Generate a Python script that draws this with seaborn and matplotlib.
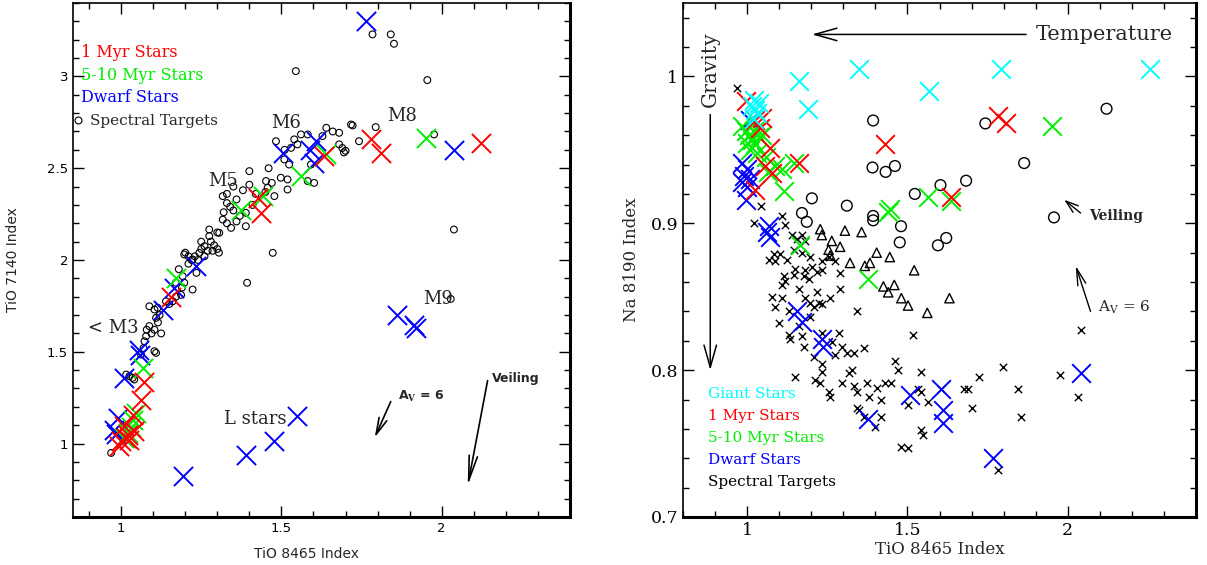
import numpy as np
import pandas as pd
import matplotlib
matplotlib.use('Agg')
import matplotlib.pyplot as plt
import seaborn as sns
from matplotlib.markers import MarkerStyle
from matplotlib.lines import Line2D
from matplotlib.ticker import MultipleLocator, FuncFormatter

# ---- left panel: TiO 8465 vs TiO 7140 ----
left_red = [(1.062, 1.24), (1.072, 1.338), (1.036, 1.158), (1.010, 1.094), (1.021, 1.049),
            (1.000, 1.013), (1.026, 1.022), (0.995, 0.985), (1.015, 1.030), (1.040, 1.070),
            (1.156, 1.80), (1.426, 2.34), (1.436, 2.257), (1.633, 2.566), (1.779, 2.657),
            (1.810, 2.584), (2.121, 2.639)]
left_green = [(1.171, 1.903), (1.068, 1.41), (1.047, 1.167), (1.036, 1.13), (1.020, 1.06),
              (1.030, 1.09), (1.010, 1.03), (1.374, 2.275), (1.441, 2.348), (1.561, 2.457),
              (1.639, 2.575), (1.950, 2.666)]
left_blue = [(1.234, 1.966), (1.166, 1.848), (1.130, 1.73), (1.057, 1.512), (1.060, 1.48),
             (1.010, 1.358), (0.990, 1.14), (0.979, 1.076), (0.985, 1.05), (1.504, 2.584),
             (1.607, 2.647), (1.602, 2.53), (1.590, 2.60), (1.763, 3.30), (2.038, 2.60),
             (1.862, 1.703), (1.919, 1.63), (1.915, 1.645), (1.550, 1.149), (1.478, 1.013),
             (1.389, 0.94), (1.192, 0.822)]
left_targets = [(1.400, 2.484), (1.452, 2.43), (1.400, 2.41), (1.457, 2.393), (1.478, 2.348),
                (1.317, 2.348), (1.340, 2.29), (1.330, 2.31), (1.350, 2.27), (1.389, 2.257),
                (1.389, 2.184), (1.360, 2.21), (1.343, 2.175), (1.317, 2.22), (1.330, 2.20),
                (1.275, 2.166), (1.306, 2.148), (1.280, 2.10), (1.290, 2.08), (1.300, 2.06),
                (1.285, 2.05), (1.305, 2.04), (1.260, 2.075), (1.250, 2.06), (1.230, 2.02),
                (1.210, 2.02), (1.200, 2.04), (1.220, 2.00), (1.473, 2.039), (1.498, 2.448),
                (1.519, 2.439), (1.519, 2.384), (1.483, 2.647), (1.530, 2.611), (1.509, 2.548),
                (1.524, 2.52), (1.540, 2.657), (1.561, 2.684), (1.582, 2.684), (1.628, 2.675),
                (1.680, 2.693), (1.717, 2.738), (1.680, 2.63), (1.695, 2.586), (1.690, 2.61),
                (1.602, 2.42), (1.582, 2.43), (1.592, 2.52), (1.784, 3.229), (1.841, 3.229),
                (1.851, 3.178), (1.545, 3.029), (1.955, 2.98), (1.722, 2.733), (1.794, 2.724),
                (1.742, 2.647), (1.700, 2.595), (1.976, 2.684), (2.038, 2.166), (2.028, 1.788),
                (1.275, 2.13), (1.244, 2.039), (1.197, 2.03), (1.223, 2.003), (1.210, 1.98),
                (1.192, 1.912), (1.171, 1.876), (1.197, 1.876), (1.223, 1.839), (1.187, 1.81),
                (1.171, 1.80), (1.161, 1.775), (1.140, 1.775), (1.114, 1.74), (1.104, 1.73),
                (1.088, 1.748), (1.109, 1.685), (1.088, 1.64), (1.104, 1.62), (1.125, 1.60),
                (1.115, 1.66), (1.078, 1.585), (1.073, 1.557), (1.109, 1.494), (1.062, 1.485),
                (1.026, 1.367), (1.041, 1.349), (1.016, 1.376), (1.036, 1.358), (0.969, 0.949),
                (1.393, 1.876), (1.104, 1.503), (1.095, 1.60), (1.080, 1.62), (1.120, 1.70),
                (1.150, 1.76), (1.240, 2.00), (1.260, 2.02), (1.270, 2.05), (1.320, 2.26),
                (1.360, 2.33), (1.380, 2.38), (1.420, 2.36), (1.450, 2.37), (1.470, 2.42),
                (1.300, 2.15), (1.330, 2.36), (1.350, 2.40), (1.460, 2.50), (1.510, 2.60),
                (1.550, 2.63), (1.640, 2.72), (1.660, 2.70), (1.190, 1.85), (1.180, 1.95),
                (1.070, 1.52), (1.250, 2.10), (1.235, 1.93), (1.370, 2.24), (1.410, 2.30)]

# ---- right panel: TiO 8465 vs Na 8190 ----
right_cyan = [(1.161, 0.997), (1.348, 1.005), (1.568, 0.990), (1.792, 1.005), (2.255, 1.005),
              (1.189, 0.978), (1.021, 0.984), (1.036, 0.982), (1.026, 0.977), (1.016, 0.980),
              (1.031, 0.975), (1.021, 0.971)]
right_red = [(0.995, 0.983), (1.047, 0.972), (1.026, 0.970), (1.072, 0.951), (1.057, 0.939),
             (1.078, 0.934), (1.026, 0.923), (1.161, 0.941), (1.430, 0.954), (1.782, 0.973),
             (1.807, 0.968), (1.637, 0.918), (1.041, 0.965)]
right_green = [(0.984, 0.966), (1.005, 0.960), (1.016, 0.957), (1.000, 0.955), (1.021, 0.963),
               (1.036, 0.959), (1.026, 0.954), (0.995, 0.963), (1.047, 0.960), (1.010, 0.950),
               (1.030, 0.948), (1.088, 0.939), (1.109, 0.937), (1.145, 0.941), (1.114, 0.922),
               (1.440, 0.908), (1.445, 0.910), (1.564, 0.918), (1.637, 0.915), (1.952, 0.966),
               (1.378, 0.862), (1.166, 0.885), (1.060, 0.945), (1.065, 0.935)]
right_blue = [(0.984, 0.941), (1.000, 0.937), (0.990, 0.932), (1.010, 0.930), (0.984, 0.928),
              (1.000, 0.925), (0.995, 0.916), (1.067, 0.898), (1.072, 0.891), (1.062, 0.894),
              (1.155, 0.840), (1.171, 0.833), (1.233, 0.821), (1.238, 0.816), (1.507, 0.783),
              (1.378, 0.767), (1.606, 0.787), (1.611, 0.773), (1.611, 0.764), (2.040, 0.798),
              (1.766, 0.740), (1.010, 0.970)]
right_circles = [(1.393, 0.970), (1.391, 0.938), (1.432, 0.935), (1.461, 0.939), (1.202, 0.917),
                 (1.311, 0.912), (1.171, 0.907), (1.186, 0.901), (1.393, 0.905), (1.393, 0.902),
                 (1.523, 0.920), (1.603, 0.926), (1.476, 0.887), (1.595, 0.885), (1.621, 0.890),
                 (1.743, 0.968), (2.121, 0.978), (1.864, 0.941), (1.683, 0.929), (1.957, 0.904),
                 (1.480, 0.898)]
right_triangles = [(1.228, 0.896), (1.233, 0.892), (1.305, 0.895), (1.357, 0.894), (1.264, 0.888),
                   (1.290, 0.884), (1.254, 0.882), (1.321, 0.873), (1.367, 0.871), (1.383, 0.873),
                   (1.404, 0.880), (1.445, 0.877), (1.521, 0.868), (1.425, 0.857), (1.459, 0.858),
                   (1.440, 0.853), (1.481, 0.849), (1.502, 0.844), (1.562, 0.839), (1.631, 0.849),
                   (1.259, 0.878)]
right_targets = [(1.043, 0.912), (1.109, 0.905), (1.022, 0.900), (1.118, 0.899), (1.140, 0.892),
                 (1.171, 0.892), (1.155, 0.889), (1.180, 0.888), (1.146, 0.882), (1.196, 0.877),
                 (1.171, 0.880), (1.102, 0.879), (1.084, 0.879), (1.068, 0.875), (1.087, 0.874),
                 (1.124, 0.875), (1.233, 0.874), (1.255, 0.877), (1.273, 0.874), (1.233, 0.868),
                 (1.202, 0.870), (1.180, 0.868), (1.149, 0.869), (1.146, 0.865), (1.177, 0.864),
                 (1.193, 0.862), (1.217, 0.867), (1.115, 0.864), (1.118, 0.861), (1.109, 0.858),
                 (1.289, 0.866), (1.161, 0.855), (1.217, 0.853), (1.289, 0.855), (1.078, 0.850),
                 (1.109, 0.849), (1.087, 0.843), (1.180, 0.849), (1.196, 0.846), (1.224, 0.846),
                 (1.233, 0.845), (1.258, 0.849), (1.208, 0.843), (1.130, 0.840), (1.196, 0.836),
                 (1.099, 0.832), (1.161, 0.830), (1.342, 0.840), (1.130, 0.824), (1.171, 0.823),
                 (1.135, 0.821), (1.177, 0.816), (1.208, 0.809), (1.233, 0.825), (1.286, 0.825),
                 (1.295, 0.816), (1.273, 0.810), (1.311, 0.812), (1.332, 0.812), (1.363, 0.815),
                 (1.264, 0.819), (1.233, 0.804), (1.233, 0.799), (1.149, 0.795), (1.211, 0.793),
                 (1.227, 0.791), (1.317, 0.798), (1.326, 0.800), (1.295, 0.791), (1.255, 0.785),
                 (1.258, 0.782), (1.332, 0.789), (1.342, 0.785), (1.373, 0.791), (1.404, 0.788),
                 (1.379, 0.782), (1.429, 0.791), (1.450, 0.791), (1.460, 0.806), (1.472, 0.800),
                 (1.516, 0.824), (1.543, 0.799), (1.534, 0.787), (1.543, 0.785), (1.565, 0.778),
                 (1.503, 0.776), (1.419, 0.780), (1.606, 0.787), (1.543, 0.759), (1.550, 0.756),
                 (1.677, 0.787), (1.689, 0.787), (1.342, 0.774), (1.348, 0.773), (1.419, 0.768),
                 (1.398, 0.761), (1.481, 0.748), (1.724, 0.795), (1.798, 0.802), (1.702, 0.774),
                 (1.845, 0.787), (1.854, 0.768), (1.975, 0.797), (2.031, 0.782), (2.040, 0.827),
                 (1.783, 0.732), (0.969, 0.992), (1.363, 0.768), (1.503, 0.747)]

legend_left = ['1 Myr Stars', '5-10 Myr Stars', 'Dwarf Stars']
legend_right = ['Giant Stars', '1 Myr Stars', '5-10 Myr Stars', 'Dwarf Stars', 'Spectral Targets']

RED, GREEN, BLUE, CYAN = '#ff0000', '#00ee00', '#0000ff', '#00ffff'

sns.set_style('ticks')
plt.rcParams['font.family'] = ['DejaVu Sans']
plt.rcParams['mathtext.fontset'] = 'dejavuserif'

fig = plt.figure(figsize=(12.07, 5.65), dpi=100)
ax1 = fig.add_axes([73 / 1207, 1 - 517 / 565, 497 / 1207, 514 / 565])
ax2 = fig.add_axes([683 / 1207, 1 - 517 / 565, 513 / 1207, 514 / 565])

def df(pts):
    return pd.DataFrame(pts, columns=['x', 'y'])

open_circle = MarkerStyle('o', fillstyle='none')
open_tri = MarkerStyle('^', fillstyle='none')

# left
sns.scatterplot(data=df(left_targets), x='x', y='y', ax=ax1, marker=open_circle,
                color='black', s=24, linewidth=0.8)
for pts, c in [(left_blue, BLUE), (left_green, GREEN), (left_red, RED)]:
    sns.scatterplot(data=df(pts), x='x', y='y', ax=ax1, marker='x', color=c, s=190, linewidth=1.4)

# right
sns.scatterplot(data=df(right_targets), x='x', y='y', ax=ax2, marker='x', color='black',
                s=28, linewidth=1.0)
sns.scatterplot(data=df(right_triangles), x='x', y='y', ax=ax2, marker=open_tri, color='black',
                s=45, linewidth=1.0)
sns.scatterplot(data=df(right_circles), x='x', y='y', ax=ax2, marker=open_circle, color='black',
                s=60, linewidth=1.0)
for pts, c in [(right_blue, BLUE), (right_green, GREEN), (right_red, RED), (right_cyan, CYAN)]:
    sns.scatterplot(data=df(pts), x='x', y='y', ax=ax2, marker='x', color=c, s=180, linewidth=1.4)

fmt = FuncFormatter(lambda v, p: '%g' % v)
for ax in (ax1, ax2):
    ax.tick_params(which='both', direction='in', top=True, right=True, colors='black')
    ax.tick_params(which='major', length=8, width=1)
    ax.tick_params(which='minor', length=4, width=1)
    for side in ax.spines:
        ax.spines[side].set_linewidth(1.2)
        ax.spines[side].set_color('black')
    ax.spines['bottom'].set_linewidth(2.2)
    ax.spines['right'].set_linewidth(2.2)
    ax.xaxis.set_major_formatter(fmt)
    ax.yaxis.set_major_formatter(fmt)

ax1.set_xlim(0.85, 2.4)
ax1.set_ylim(0.6, 3.4)
ax1.xaxis.set_major_locator(MultipleLocator(0.5))
ax1.xaxis.set_minor_locator(MultipleLocator(0.1))
ax1.yaxis.set_major_locator(MultipleLocator(0.5))
ax1.yaxis.set_minor_locator(MultipleLocator(0.1))
ax1.tick_params(labelsize=9.5)
ax1.set_xlabel('TiO 8465 Index', fontsize=10)
ax1.set_ylabel('TiO 7140 Index', fontsize=10)
ax1.xaxis.set_label_coords(0.47, -0.058)
ax1.yaxis.set_label_coords(-0.107, 0.5)

ax2.set_xlim(0.8, 2.4)
ax2.set_ylim(0.7, 1.05)
ax2.xaxis.set_major_locator(MultipleLocator(0.5))
ax2.xaxis.set_minor_locator(MultipleLocator(0.1))
ax2.yaxis.set_major_locator(MultipleLocator(0.1))
ax2.yaxis.set_minor_locator(MultipleLocator(0.02))
for lab in ax2.get_xticklabels() + ax2.get_yticklabels():
    lab.set_family('DejaVu Serif')
    lab.set_fontsize(12.5)
ax2.set_xlabel('TiO 8465 Index', fontsize=12, family='DejaVu Serif')
ax2.set_ylabel('Na 8190 Index', fontsize=12, family='DejaVu Serif')
ax2.xaxis.set_label_coords(0.5, -0.047)
ax2.yaxis.set_label_coords(-0.084, 0.5)

serif = 'DejaVu Serif'

# left panel labels
for lab, c, yy in zip(legend_left, [RED, GREEN, BLUE], [3.131, 3.005, 2.886]):
    ax1.text(0.875, yy, lab, color=c, fontsize=11.5, family=serif, va='center', ha='left')
hnd = Line2D([], [], ls='none', marker=open_circle, color='black', markersize=5, mew=0.8)
ax1.legend([hnd], ['Spectral Targets'], loc='center left', bbox_to_anchor=(-0.002, 0.770),
           frameon=False, handlelength=0.8, handletextpad=0.4, borderpad=0, borderaxespad=0,
           prop={'family': serif, 'size': 11})

for txt, xx, yy in [('M6', 1.514, 2.744), ('M5', 1.318, 2.428), ('M8', 1.875, 2.787),
                    ('< M3', 0.975, 1.632), ('M9', 1.988, 1.785), ('L stars', 1.417, 1.136)]:
    ax1.text(xx, yy, txt, fontsize=13, family=serif, ha='center', va='center')

ax1.text(1.863, 1.256, r'A$_\mathbf{V}$ = 6', fontsize=9, fontweight='bold', ha='left', va='center')
ax1.text(2.156, 1.354, 'Veiling', fontsize=9, fontweight='bold', ha='left', va='center')
ax1.annotate('', xy=(1.791, 1.033), xytext=(1.841, 1.229),
             arrowprops=dict(arrowstyle='->,head_length=1.2,head_width=0.3', color='black',
                             lw=1.2, mutation_scale=10, shrinkA=0, shrinkB=0))
ax1.annotate('', xy=(2.081, 0.771), xytext=(2.143, 1.343),
             arrowprops=dict(arrowstyle='->,head_length=1.8,head_width=0.3', color='black',
                             lw=1.2, mutation_scale=10, shrinkA=0, shrinkB=0))

# right panel labels
for lab, c, yy in zip(legend_right, [CYAN, RED, GREEN, BLUE, 'black'],
                      [0.784, 0.769, 0.754, 0.739, 0.724]):
    ax2.text(0.879, yy, lab, color=c, fontsize=11, family=serif, va='center', ha='left')

ax2.text(1.901, 1.0286, 'Temperature', fontsize=15, family=serif, ha='left', va='center')
ax2.annotate('', xy=(1.202, 1.0286), xytext=(1.870, 1.0286),
             arrowprops=dict(arrowstyle='->,head_length=1.6,head_width=0.45', color='black',
                             lw=1.1, mutation_scale=10, shrinkA=0, shrinkB=0))
ax2.text(0.885, 1.005, 'Gravity', fontsize=14.5, family=serif, ha='center', va='center',
         rotation=90)
ax2.annotate('', xy=(0.885, 0.80), xytext=(0.885, 0.974),
             arrowprops=dict(arrowstyle='->,head_length=1.6,head_width=0.45', color='black',
                             lw=1.1, mutation_scale=10, shrinkA=0, shrinkB=0))
ax2.text(2.065, 0.905, 'Veiling', fontsize=10, family=serif, fontweight='bold',
         ha='left', va='center')
ax2.annotate('', xy=(1.989, 0.916), xytext=(2.040, 0.907),
             arrowprops=dict(arrowstyle='->,head_length=0.9,head_width=0.3', color='black',
                             lw=1.0, mutation_scale=10, shrinkA=0, shrinkB=0))
ax2.text(2.093, 0.843, r'A$_\mathrm{V}$ = 6', fontsize=11, family=serif, ha='left', va='center')
ax2.annotate('', xy=(2.025, 0.871), xytext=(2.071, 0.840),
             arrowprops=dict(arrowstyle='->,head_length=1.2,head_width=0.3', color='black',
                             lw=1.0, mutation_scale=10, shrinkA=0, shrinkB=0))

fig.savefig('out.png', dpi=100)
